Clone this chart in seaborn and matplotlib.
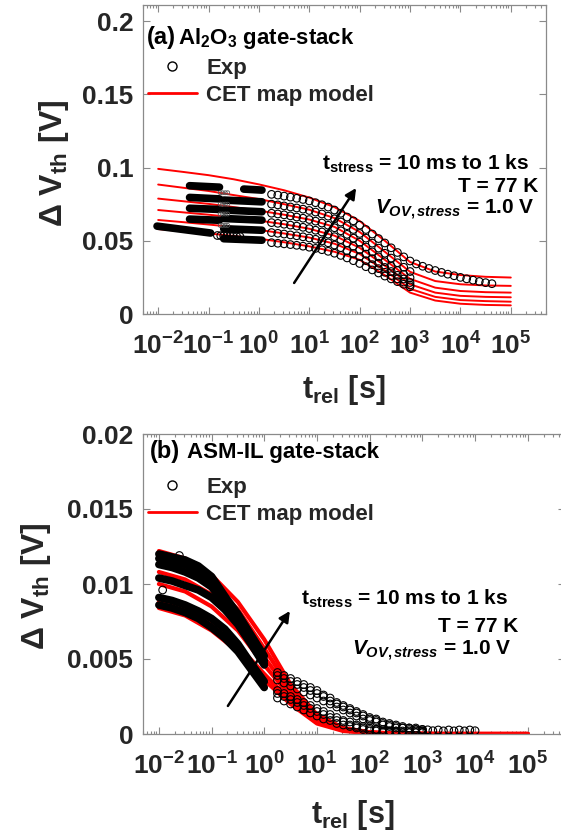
import numpy as np
import pandas as pd
import matplotlib
matplotlib.use("Agg")
import matplotlib.pyplot as plt
from matplotlib.lines import Line2D
from matplotlib.ticker import LogLocator, NullFormatter
import seaborn as sns

# ---------------------------------------------------------------
# Panel (a): Al2O3 gate-stack
# ---------------------------------------------------------------
T_MODEL = [0.01, 0.0316, 0.1, 0.316, 1.0, 3.16, 10.0, 31.6, 100.0, 316.0,
           1000.0, 3160.0, 1.0e4, 3.16e4, 1.0e5]

CET_A1 = [.0991, .0970, .0948, .0920, .0885, .0845, .0795, .0730, .0635, .0500, .0355, .0290, .0266, .0254, .0249]
CET_A2 = [.0884, .0862, .0840, .0812, .0785, .0750, .0712, .0655, .0560, .0425, .0288, .0225, .0203, .0195, .0192]
CET_A3 = [.0788, .0770, .0752, .0730, .0706, .0678, .0645, .0595, .0500, .0370, .0240, .0180, .0157, .0149, .0146]
CET_A4 = [.0710, .0694, .0678, .0660, .0638, .0613, .0582, .0535, .0452, .0330, .0203, .0146, .0124, .0117, .0114]
CET_A5 = [.0642, .0627, .0611, .0594, .0574, .0550, .0522, .0480, .0410, .0297, .0172, .0117, .0095, .0088, .0084]
CET_A6 = [.0580, .0565, .0550, .0533, .0514, .0490, .0462, .0425, .0370, .0265, .0146, .0092, .0070, .0062, .0059]

# slow measurement window (s)
T_SLOW = [1.78, 2.37, 3.16, 4.22, 5.62, 7.50, 10.0, 13.3, 17.8, 23.7, 31.6, 42.2,
          56.2, 75.0, 100.0, 133.0, 178.0, 237.0, 316.0, 422.0, 562.0, 750.0, 1000.0]

EXP_A1 = [.0817, .0812, .0805, .0798, .0790, .0782, .0772, .0760, .0746, .0730, .0710, .0688,
          .0662, .0636, .0607, .0577, .0546, .0515, .0485, .0452, .0420, .0390, .0362]
EXP_A2 = [.0750, .0745, .0738, .0731, .0724, .0716, .0707, .0696, .0683, .0668, .0650, .0628,
          .0603, .0577, .0550, .0518, .0484, .0450, .0415, .0382, .0350, .0319, .0290]
EXP_A3 = [.0688, .0683, .0677, .0670, .0662, .0654, .0645, .0634, .0621, .0606, .0589, .0568,
          .0544, .0518, .0490, .0457, .0424, .0390, .0357, .0326, .0297, .0271, .0248]
EXP_A4 = [.0624, .0619, .0613, .0607, .0600, .0592, .0583, .0572, .0560, .0545, .0528, .0508,
          .0486, .0463, .0440, .0409, .0378, .0347, .0318, .0290, .0264, .0239, .0215]
EXP_A5 = [.0556, .0551, .0546, .0540, .0534, .0527, .0519, .0510, .0499, .0486, .0471, .0453,
          .0433, .0413, .0392, .0364, .0337, .0310, .0285, .0262, .0240, .0218, .0198]
EXP_A6 = [.0487, .0483, .0479, .0474, .0469, .0463, .0456, .0448, .0439, .0428, .0415, .0400,
          .0383, .0364, .0345, .0323, .0301, .0280, .0259, .0240, .0221, .0203, .0186]

# longest relaxation trace continues past 1 ks
T_TAIL_A = [1330, 1780, 2370, 3160, 4220, 5620, 7500, 1.0e4, 13300, 17800, 23700, 31600, 42200]
EXP_A1_TAIL = [.0342, .0326, .0311, .0297, .0284, .0272, .0261, .0250, .0240, .0231, .0222, .0214, .0207]

# fast window: densely sampled traces (start/end time and value of each trace)
FAST_A_T0 = [0.0095, 0.042, 0.042, 0.042, 0.042, 0.50, 0.20, 0.20, 0.20, 0.20, 0.20]
FAST_A_T1 = [0.11, 0.165, 0.165, 0.165, 0.165, 1.15, 1.15, 1.15, 1.15, 1.15, 1.15]
FAST_A_V0 = [.0600, .0876, .0796, .0722, .0648, .0853, .0778, .0710, .0652, .0582, .0514]
FAST_A_V1 = [.0553, .0866, .0786, .0714, .0640, .0846, .0766, .0698, .0641, .0572, .0504]

# sparse points between the two fast windows
GAP_A_T = [0.17, 0.19, 0.215, 0.24]
GAP_A_V = [.0828, .0750, .0683, .0605]
ROW_A_T = [0.15, 0.175, 0.20, 0.23, 0.27, 0.31, 0.36, 0.42]
ROW_A_V = [.0536, .0535, .0534, .0533, .0532, .0531, .0530, .0529]

# ---------------------------------------------------------------
# Panel (b): ASM-IL gate-stack
# ---------------------------------------------------------------
CET_B1 = [.0084, .0079, .0069, .0055, .0036, .0020, .0007, .00020, .00006, .00002, 0, 0, 0, 0, 0]
CET_B2 = [.0088, .0083, .0073, .0059, .0040, .0022, .0008, .00024, .00007, .00002, 0, 0, 0, 0, 0]
CET_B3 = [.0100, .0095, .0085, .0069, .0046, .0025, .0009, .00028, .00008, .00002, 0, 0, 0, 0, 0]
CET_B4 = [.0108, .0103, .0093, .0076, .0051, .0028, .0010, .00031, .00009, .00003, .00001, 0, 0, 0, 0]
CET_B5 = [.0116, .0111, .0101, .0083, .0057, .0030, .0011, .00035, .00010, .00003, .00001, 0, 0, 0, 0]
CET_B6 = [.0122, .0117, .0106, .0088, .0063, .0033, .0013, .00040, .00012, .00003, .00001, 0, 0, 0, 0]

T_FAST_B = [0.01, 0.0178, 0.0316, 0.0562, 0.1, 0.178, 0.316, 0.562, 1.0]
EXPF_B1 = [.0086, .0084, .0081, .0077, .0071, .0064, .0055, .0043, .0031]
EXPF_B2 = [.0091, .0089, .0086, .0082, .0077, .0070, .0060, .0047, .0035]
EXPF_B3 = [.0104, .0102, .0099, .0096, .0091, .0083, .0073, .0060, .0046]
EXPF_B4 = [.0113, .0111, .0108, .0104, .0098, .0087, .0075, .0061, .0047]
EXPF_B5 = [.0117, .0115, .0113, .0109, .0102, .0090, .0078, .0063, .0049]
EXPF_B6 = [.0120, .0118, .0116, .0112, .0105, .0092, .0080, .0066, .0052]

EXPS_B1 = [.0024, .0022, .0020, .0018, .0016, .0014, .0012, .0010, .0009, .0007, .0006, .0005,
           .0004, .0003, .0002, .0002, .0001, .0001, .0001, .0001, .0001, .0001, .0001]
EXPS_B2 = [.0027, .0025, .0023, .0021, .0019, .0017, .0015, .0013, .0011, .0009, .0008, .0006,
           .0005, .0004, .0003, .0003, .0002, .0002, .0002, .0001, .0001, .0001, .0001]
EXPS_B3 = [.0029, .0027, .0025, .0023, .0021, .0019, .0017, .0015, .0013, .0011, .0009, .0008,
           .0006, .0005, .0004, .0003, .0003, .0002, .0002, .0002, .0002, .0002, .0002]
EXPS_B4 = [.0036, .0034, .0032, .0030, .0028, .0026, .0024, .0022, .0020, .0018, .0016, .0014,
           .0012, .0010, .0009, .0008, .0006, .0005, .0004, .0004, .0003, .0003, .0002]
EXPS_B5 = [.0039, .0037, .0035, .0033, .0031, .0029, .0027, .0025, .0022, .0020, .0018, .0016,
           .0014, .0012, .0010, .0009, .0007, .0006, .0005, .0004, .0004, .0003, .0003]
EXPS_B6 = [.0041, .0039, .0037, .0035, .0033, .0031, .0029, .0026, .0024, .0021, .0019, .0017,
           .0015, .0013, .0011, .0010, .0008, .0007, .0006, .0005, .0004, .0004, .0003]

T_TAIL_B = [1260, 1580, 2000, 2510, 3160, 3980, 5010, 6310, 7940, 10000]
EXP_B6_TAIL = [.00028, .00022, .00027, .00021, .00027, .00021, .00027, .00021, .00027, .00022]

SINGLE_B_T = [0.0118, 0.0245]
SINGLE_B_V = [.0096, .0119]

XTICKS = [1e-2, 1e-1, 1e0, 1e1, 1e2, 1e3, 1e4, 1e5]
XTICKLABELS = [r"$10^{-2}$", r"$10^{-1}$", r"$10^{0}$", r"$10^{1}$",
               r"$10^{2}$", r"$10^{3}$", r"$10^{4}$", r"$10^{5}$"]
YTICKS_A = [0, 0.05, 0.1, 0.15, 0.2]
YLABELS_A = ["0", "0.05", "0.1", "0.15", "0.2"]
YTICKS_B = [0, 0.005, 0.01, 0.015, 0.02]
YLABELS_B = ["0", "0.005", "0.01", "0.015", "0.02"]

# ---------------------------------------------------------------
sns.set_theme(style="ticks")
plt.rcParams.update({
    "font.family": ["Liberation Sans", "DejaVu Sans"],
    "font.weight": "bold",
    "mathtext.fontset": "custom",
    "mathtext.rm": "Liberation Sans:bold",
    "mathtext.it": "Liberation Sans:italic:bold",
    "mathtext.bf": "Liberation Sans:bold",
    "mathtext.default": "regular",
    "axes.edgecolor": "#8a8a8a",
    "axes.linewidth": 0.9,
    "xtick.color": "#8a8a8a",
    "ytick.color": "#8a8a8a",
    "xtick.labelcolor": "#262626",
    "ytick.labelcolor": "#262626",
    "axes.facecolor": "white",
    "figure.facecolor": "white",
})

W, H = 561, 835
fig = plt.figure(figsize=(W / 100, H / 100), dpi=100)


def fx(x):
    return x / W


def fy(y):
    return 1 - y / H


ax_a = fig.add_axes([143 / W, 1 - 314 / H, 403 / W, 309 / H])
ax_b = fig.add_axes([143 / W, 1 - 734 / H, 421.6 / W, 300 / H])


def model_frame(curves):
    rows = []
    for k, vals in enumerate(curves):
        for t, v in zip(T_MODEL, vals):
            rows.append({"t": t, "v": v, "curve": k})
    return pd.DataFrame(rows)


def fast_frame(t0s, t1s, v0s, v1s):
    rows = []
    for k, (t0, t1, v0, v1) in enumerate(zip(t0s, t1s, v0s, v1s)):
        rows.append({"t": t0, "v": v0, "trace": k})
        rows.append({"t": t1, "v": v1, "trace": k})
    return pd.DataFrame(rows)


def style_axis(ax, yticks, ylabels, ylim):
    ax.set_xscale("log")
    ax.set_xlim(0.005, 5e5)
    ax.set_ylim(*ylim)
    ax.set_xticks(XTICKS)
    ax.set_xticklabels(XTICKLABELS)
    ax.xaxis.set_minor_locator(LogLocator(base=10, subs=np.arange(2, 10), numticks=30))
    ax.xaxis.set_minor_formatter(NullFormatter())
    ax.set_yticks(yticks)
    ax.set_yticklabels(ylabels)
    ax.tick_params(which="both", direction="in", top=True, right=True, width=0.8)
    ax.tick_params(which="major", length=5)
    ax.tick_params(which="minor", length=2.5)
    ax.tick_params(axis="x", which="major", labelsize=19, pad=13)
    ax.tick_params(axis="y", which="major", labelsize=19, pad=7)
    ax.set_xlabel("")
    ax.set_ylabel("")
    for s in ax.spines.values():
        s.set_visible(True)


# ---------------- panel (a) ----------------
ax_a.set_xscale("log")
sns.lineplot(data=model_frame([CET_A1, CET_A2, CET_A3, CET_A4, CET_A5, CET_A6]),
             x="t", y="v", units="curve", estimator=None, color="red",
             linewidth=1.4, legend=False, ax=ax_a, zorder=2)

slow_a = pd.DataFrame({
    "t": T_SLOW * 6 + T_TAIL_A,
    "v": EXP_A1 + EXP_A2 + EXP_A3 + EXP_A4 + EXP_A5 + EXP_A6 + EXP_A1_TAIL,
})
sns.scatterplot(data=slow_a, x="t", y="v", marker="o", s=30, facecolor="none",
                edgecolor="black", linewidth=0.8, legend=False, ax=ax_a, zorder=3)

sns.lineplot(data=fast_frame(FAST_A_T0, FAST_A_T1, FAST_A_V0, FAST_A_V1),
             x="t", y="v", units="trace", estimator=None, color="black",
             linewidth=5.5, solid_capstyle="round", legend=False, ax=ax_a, zorder=3)

gap_a = pd.DataFrame({"t": [t for _ in GAP_A_V for t in GAP_A_T],
                      "v": [v for v in GAP_A_V for _ in GAP_A_T]})
sns.scatterplot(data=gap_a, x="t", y="v", marker="o", s=8, facecolor="none",
                edgecolor="#555555", linewidth=0.6, legend=False, ax=ax_a, zorder=3)
sns.scatterplot(x=ROW_A_T, y=ROW_A_V, marker="o", s=30, facecolor="none",
                edgecolor="black", linewidth=0.8, legend=False, ax=ax_a, zorder=3)

style_axis(ax_a, YTICKS_A, YLABELS_A, (0, 0.211))
ax_a.annotate("", xy=(85, 0.086), xytext=(5.0, 0.0212),
              arrowprops=dict(arrowstyle="-|>", color="black", lw=1.8,
                              mutation_scale=16, shrinkA=0, shrinkB=0), zorder=5)

# ---------------- panel (b) ----------------
ax_b.set_xscale("log")
sns.lineplot(data=model_frame([CET_B1, CET_B2, CET_B3, CET_B4, CET_B5, CET_B6]),
             x="t", y="v", units="curve", estimator=None, color="red",
             linewidth=3.0, legend=False, ax=ax_b, zorder=2)

fast_b = pd.DataFrame({
    "t": T_FAST_B * 6,
    "v": EXPF_B1 + EXPF_B2 + EXPF_B3 + EXPF_B4 + EXPF_B5 + EXPF_B6,
    "trace": np.repeat(np.arange(6), len(T_FAST_B)),
})
sns.lineplot(data=fast_b, x="t", y="v", units="trace", estimator=None, color="black",
             linewidth=5.5, solid_capstyle="round", legend=False, ax=ax_b, zorder=3)

slow_b = pd.DataFrame({
    "t": T_SLOW * 6 + T_TAIL_B + SINGLE_B_T,
    "v": EXPS_B1 + EXPS_B2 + EXPS_B3 + EXPS_B4 + EXPS_B5 + EXPS_B6 + EXP_B6_TAIL + SINGLE_B_V,
})
sns.scatterplot(data=slow_b, x="t", y="v", marker="o", s=30, facecolor="none",
                edgecolor="black", linewidth=0.8, legend=False, ax=ax_b, zorder=3)

style_axis(ax_b, YTICKS_B, YLABELS_B, (0, 0.02))
ax_b.annotate("", xy=(3.06, 0.0082), xytext=(0.204, 0.00187),
              arrowprops=dict(arrowstyle="-|>", color="black", lw=1.8,
                              mutation_scale=16, shrinkA=0, shrinkB=0), zorder=5)

# ---------------- legends ----------------
handles = [Line2D([], [], linestyle="none", marker="o", markersize=6.5,
                  markerfacecolor="none", markeredgecolor="black", markeredgewidth=1.0),
           Line2D([], [], color="red", linewidth=2.0)]
for ax, top in ((ax_a, 58), (ax_b, 477)):
    ax.legend(handles, ["Exp", "CET map model"], loc="upper left",
              bbox_to_anchor=(fx(148), fy(top)), bbox_transform=fig.transFigure,
              frameon=False, handlelength=2.2, handletextpad=0.42,
              labelspacing=0.28, borderpad=0, borderaxespad=0,
              prop={"weight": "bold", "size": 16})

# ---------------- texts ----------------
ink = "black"
fig.text(fx(147), fy(44), "(a)", fontsize=17, color=ink, va="baseline", ha="left")
fig.text(fx(178), fy(44), "Al$_2$O$_3$ gate-stack", fontsize=16, color=ink,
         va="baseline", ha="left")
fig.text(fx(150), fy(458), "(b)", fontsize=17, color=ink, va="baseline", ha="left")
fig.text(fx(187), fy(458), "ASM-IL gate-stack", fontsize=16, color=ink,
         va="baseline", ha="left")

for (xr1, xr2, xr3, b1, b2, b3) in ((529, 538, 535, 170, 192, 214),
                                     (508, 518, 512, 605, 632, 655)):
    fig.text(fx(xr1), fy(b1), "t$_{stress}$ = 10 ms to 1 ks", fontsize=15, color=ink,
             ha="right", va="baseline")
    fig.text(fx(xr2), fy(b2), "T = 77 K", fontsize=15, color=ink,
             ha="right", va="baseline")
    fig.text(fx(xr3), fy(b3), r"$\mathit{V}_{\mathit{OV,stress}}$ = 1.0 V", fontsize=15,
             color=ink, ha="right", va="baseline")

lab = "#262626"
fig.text(fx(54), fy(163), "Δ V$_{th}$ [V]", rotation=90, fontsize=23, color=lab,
         ha="center", va="center")
fig.text(fx(36), fy(586), "Δ V$_{th}$ [V]", rotation=90, fontsize=23, color=lab,
         ha="center", va="center")
fig.text(fx(344), fy(390), "t$_{rel}$ [s]", fontsize=22, color=lab,
         ha="center", va="center")
fig.text(fx(353), fy(815), "t$_{rel}$ [s]", fontsize=22, color=lab,
         ha="center", va="center")

fig.savefig("out.png", dpi=100)
